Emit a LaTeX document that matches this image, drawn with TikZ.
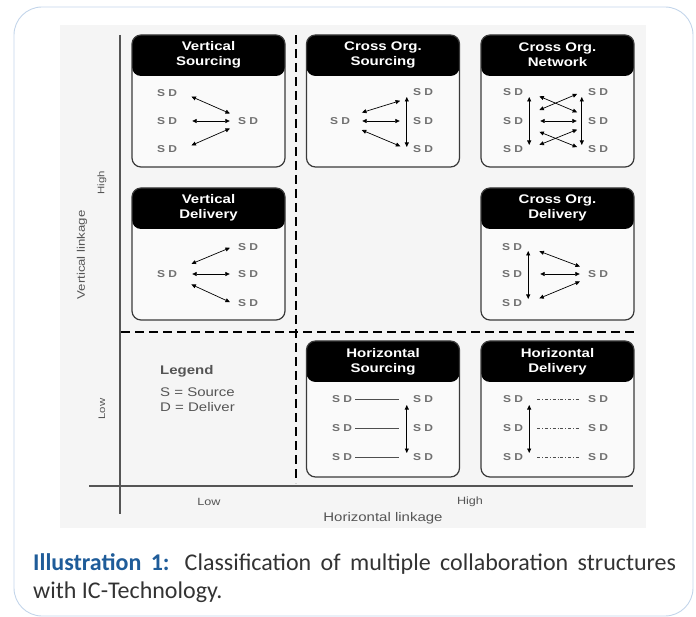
\documentclass[tikz,border=0pt]{standalone}
\usepackage{fontspec}
\setmainfont{Liberation Sans}[FakeStretch=1.2]
\newfontfamily\captionfont{Carlito}
\usetikzlibrary{arrows.meta}

\definecolor{framecol}{HTML}{C3D5EA}
\definecolor{panelgray}{HTML}{F5F5F5}
\definecolor{boxfill}{HTML}{FAFAFA}
\definecolor{boxcol}{HTML}{3A3A3A}
\definecolor{sdgray}{HTML}{707070}
\definecolor{axiscol}{HTML}{555555}
\definecolor{capblue}{HTML}{1F5C99}
\definecolor{captext}{HTML}{333333}

\begin{document}
\begin{tikzpicture}
    [ x = 1pt, y = -1pt
    , frame/.style =
      { draw = framecol, line width = .9pt, rounded corners = 28pt }
    , orgbox/.style =
      { draw = boxcol, fill = boxfill, line width = 1.2pt, rounded corners = 9pt
      , minimum width = 153pt, minimum height = #1
      , path picture =
        {\fill [black] (path picture bounding box.north west)
           rectangle ([yshift=-41pt]path picture bounding box.north east);}
      }
    , orgbox/.default = 132pt
    , title/.style =
      { text = white, align = center
      , font = \bfseries\fontsize{12.5}{15}\selectfont }
    , sd/.style =
      { text = sdgray, inner xsep = 6pt, inner ysep = 0pt, minimum height = 13pt
      , font = \bfseries\fontsize{10}{12}\selectfont }
    , link/.style =
      { <->, > = {Triangle[length=4.5pt, width=4pt]}, line width = .7pt }
    , hline/.style =
      { sdgray!70!black, line width = .7pt }
    , dline/.style =
      { hline, dash dot }
    , axis/.style =
      { draw = axiscol, line width = 1.2pt }
    , dashline/.style =
      { line width = 2.6pt, dash pattern = on 9pt off 5pt }
    , axislabel/.style =
      { text = axiscol, font = \fontsize{10.5}{12}\selectfont }
    , legendtext/.style =
      { text = axiscol, inner sep = 0pt, font = \fontsize{12.5}{15}\selectfont }
    , caption/.style =
      { text = captext, text width = 643pt, align = justify, inner sep = 0pt
      , font = \captionfont\fontsize{24}{28}\selectfont }
    ]
    \useasboundingbox (0,0) rectangle (696,617);
    \draw [frame] (14,7) rectangle (693,616);
    \fill [panelgray] (60,25) rectangle (646,528);

    % axes and quadrants
    \draw [axis] (120,35) -- (120,514);
    \draw [axis] (89,486) -- (633,486);
    \draw [dashline] (296,35) -- (296,483);
    \draw [dashline] (121,332) -- (638,332);

    \node [axislabel, rotate=90, font=\fontsize{9.5}{11}\selectfont] (yhigh) at (102,183) {High};
    \node [axislabel, rotate=90, font=\fontsize{9.5}{11}\selectfont] (ylow) at (102,409) {Low};
    \node [axislabel, rotate=90, font=\fontsize{11}{13}\selectfont] (yname) at (82,255) {Vertical linkage};
    \node [axislabel] (xlow) at (209,502) {Low};
    \node [axislabel] (xhigh) at (470,502) {High};
    \node [axislabel, font=\fontsize{12.5}{14}\selectfont] (xname) at (383,518) {Horizontal linkage};

    % vertical sourcing
    \node [orgbox] (vsrc) at (208.5,101) {};
    \node [title] (vsrc-t) at ([yshift=-20.5pt]vsrc.north) {Vertical\\Sourcing};
    \node [sd] (vsrc-l1) at (167,93) {S D};
    \node [sd] (vsrc-l2) at (167,121) {S D};
    \node [sd] (vsrc-l3) at (167,149) {S D};
    \node [sd] (vsrc-r) at (248,121) {S D};
    \draw [link, shorten <=9pt, shorten >=2pt] (vsrc-l1.east) -- (vsrc-r.north west);
    \draw [link, shorten <=9pt, shorten >=2pt] (vsrc-l2.east) -- (vsrc-r.west);
    \draw [link, shorten <=9pt, shorten >=2pt] (vsrc-l3.east) -- (vsrc-r.south west);

    % cross org. sourcing
    \node [orgbox] (csrc) at (383,101) {};
    \node [title] (csrc-t) at ([yshift=-20.5pt]csrc.north) {Cross Org.\\Sourcing};
    \node [sd] (csrc-l) at (340,121) {S D};
    \node [sd] (csrc-r1) at (423,92) {S D};
    \node [sd] (csrc-r2) at (423,121) {S D};
    \node [sd] (csrc-r3) at (423,149) {S D};
    \draw [link, shorten <=6pt, shorten >=7pt] (csrc-l.north east) -- (csrc-r1.south west);
    \draw [link, shorten <=6pt, shorten >=7pt] (csrc-l.east) -- (csrc-r2.west);
    \draw [link, shorten <=6pt, shorten >=7pt] (csrc-l.south east) -- (csrc-r3.west);
    \draw [link, shorten <=5pt, shorten >=2pt] (csrc-r1.west) -- (csrc-r3.west);

    % cross org. network
    \node [orgbox] (cnet) at (557.5,101) {};
    \node [title] (cnet-t) at ([yshift=-20.5pt]cnet.north) {Cross Org.\\Network};
    \node [sd] (cnet-l1) at (513,92) {S D};
    \node [sd] (cnet-l2) at (513,121) {S D};
    \node [sd] (cnet-l3) at (513,149) {S D};
    \node [sd] (cnet-r1) at (598,92) {S D};
    \node [sd] (cnet-r2) at (598,121) {S D};
    \node [sd] (cnet-r3) at (598,149) {S D};
    \draw [link, shorten <=5pt, shorten >=4pt] (cnet-l1.east) -- (cnet-l3.east);
    \draw [link, shorten <=5pt, shorten >=4pt] (cnet-r1.west) -- (cnet-r3.west);
    \draw [link, shorten <=11pt, shorten >=5pt] (cnet-l1.east) -- (cnet-r2.north west);
    \draw [link, shorten <=11pt, shorten >=5pt] (cnet-l2.north east) -- (cnet-r1.west);
    \draw [link, shorten <=11pt, shorten >=5pt] (cnet-l2.east) -- (cnet-r2.west);
    \draw [link, shorten <=11pt, shorten >=5pt] (cnet-l2.south east) -- (cnet-r3.west);
    \draw [link, shorten <=11pt, shorten >=5pt] (cnet-l3.east) -- (cnet-r2.south west);

    % vertical delivery
    \node [orgbox] (vdel) at (208.5,254) {};
    \node [title] (vdel-t) at ([yshift=-20.5pt]vdel.north) {Vertical\\Delivery};
    \node [sd] (vdel-l) at (167,274) {S D};
    \node [sd] (vdel-r1) at (248,247) {S D};
    \node [sd] (vdel-r2) at (248,274) {S D};
    \node [sd] (vdel-r3) at (248,303) {S D};
    \draw [link, shorten <=9pt, shorten >=2pt] (vdel-l.north east) -- (vdel-r1.west);
    \draw [link, shorten <=9pt, shorten >=2pt] (vdel-l.east) -- (vdel-r2.west);
    \draw [link, shorten <=9pt, shorten >=2pt] (vdel-l.south east) -- (vdel-r3.west);

    % cross org. delivery
    \node [orgbox] (cdel) at (557.5,254) {};
    \node [title] (cdel-t) at ([yshift=-20.5pt]cdel.north) {Cross Org.\\Delivery};
    \node [sd] (cdel-l1) at (512,247) {S D};
    \node [sd] (cdel-l2) at (512,274) {S D};
    \node [sd] (cdel-l3) at (512,303) {S D};
    \node [sd] (cdel-r) at (598,274) {S D};
    \draw [link, shorten <=4pt, shorten >=4pt] (cdel-l1.east) -- (cdel-l3.east);
    \draw [link, shorten <=12pt, shorten >=2pt] (cdel-l1.east) -- (cdel-r.north west);
    \draw [link, shorten <=12pt, shorten >=2pt] (cdel-l2.east) -- (cdel-r.west);
    \draw [link, shorten <=12pt, shorten >=2pt] (cdel-l3.east) -- (cdel-r.south west);

    % legend
    \node [legendtext, anchor=base west, font=\bfseries\fontsize{12.5}{15}\selectfont] (legend) at (160,374) {Legend};
    \node [legendtext, anchor=base west] (legend-s) at (160,396) {S = Source};
    \node [legendtext, anchor=base west] (legend-d) at (160,411) {D = Deliver};

    % horizontal sourcing
    \node [orgbox=136pt] (hsrc) at (383,409) {};
    \node [title] (hsrc-t) at ([yshift=-21pt]hsrc.north) {Horizontal\\Sourcing};
    \node [sd] (hsrc-l1) at (342,399) {S D};
    \node [sd] (hsrc-l2) at (342,428) {S D};
    \node [sd] (hsrc-l3) at (342,457) {S D};
    \node [sd] (hsrc-r1) at (423,399) {S D};
    \node [sd] (hsrc-r2) at (423,428) {S D};
    \node [sd] (hsrc-r3) at (423,457) {S D};
    \draw [hline, shorten <=-3pt, shorten >=8pt] (hsrc-l1.east) -- (hsrc-r1.west);
    \draw [hline, shorten <=-3pt, shorten >=8pt] (hsrc-l2.east) -- (hsrc-r2.west);
    \draw [hline, shorten <=-3pt, shorten >=8pt] (hsrc-l3.east) -- (hsrc-r3.west);
    \draw [link, shorten <=6pt, shorten >=4pt] (hsrc-r1.west) -- (hsrc-r3.west);

    % horizontal delivery
    \node [orgbox=136pt] (hdel) at (557.5,409) {};
    \node [title] (hdel-t) at ([yshift=-21pt]hdel.north) {Horizontal\\Delivery};
    \node [sd] (hdel-l1) at (513,399) {S D};
    \node [sd] (hdel-l2) at (513,428) {S D};
    \node [sd] (hdel-l3) at (513,457) {S D};
    \node [sd] (hdel-r1) at (598,399) {S D};
    \node [sd] (hdel-r2) at (598,428) {S D};
    \node [sd] (hdel-r3) at (598,457) {S D};
    \draw [dline, shorten <=8pt, shorten >=2pt] (hdel-l1.east) -- (hdel-r1.west);
    \draw [dline, shorten <=8pt, shorten >=2pt] (hdel-l2.east) -- (hdel-r2.west);
    \draw [dline, shorten <=8pt, shorten >=2pt] (hdel-l3.east) -- (hdel-r3.west);
    \draw [link, shorten <=6pt, shorten >=4pt] (hdel-l1.east) -- (hdel-l3.east);

    % caption
    \node [caption, anchor=north west] (cap) at (33,553)
      {{\bfseries\color{capblue}Illustration 1:} Classification of multiple collaboration structures\linebreak with IC-Technology.};
\end{tikzpicture}
\end{document}
